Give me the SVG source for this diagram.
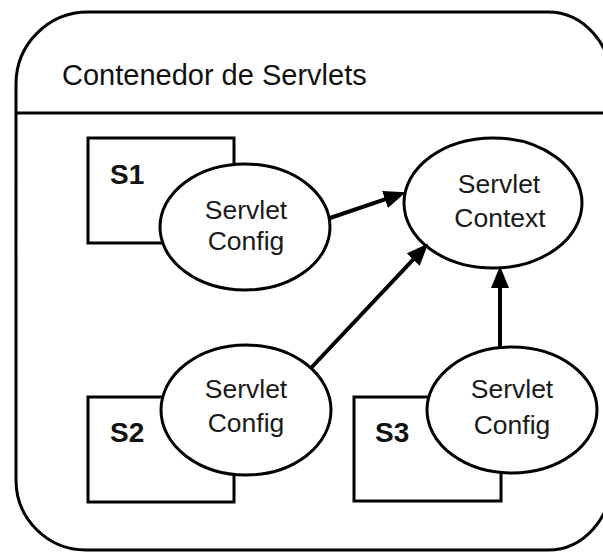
<svg xmlns="http://www.w3.org/2000/svg" width="603" height="552" viewBox="0 0 603 552">
  <defs>
    <style>
      .frame { fill: #ffffff; stroke: #000000; stroke-width: 3; }
      .box { fill: #ffffff; stroke: #000000; stroke-width: 3; }
      .oval { fill: #ffffff; stroke: #000000; stroke-width: 3; }
      .conn { fill: none; stroke: #000000; stroke-width: 4; marker-end: url(#arrow); }
      .lbl { font-family: "Liberation Sans", Arial, sans-serif; font-size: 26.5px; fill: #1a1a1a; text-anchor: middle; }
      .sid { font-family: "Liberation Sans", Arial, sans-serif; font-size: 28px; font-weight: bold; fill: #111111; }
      .title { font-family: "Liberation Sans", Arial, sans-serif; font-size: 29px; fill: #111111; }
    </style>
    <marker id="arrow" markerUnits="userSpaceOnUse" markerWidth="22" markerHeight="18" viewBox="0 0 22 18" refX="10" refY="9" orient="auto">
      <path d="M0,0 L22,9 L0,18 Z" fill="#000000"/>
    </marker>
  </defs>
  <rect width="603" height="552" fill="#ffffff"/>
  <g id="container">
    <path class="frame" d="M88 12 H548 A64 72 0 0 1 612 84 V478 A64 72 0 0 1 548 550 H86 A70 70 0 0 1 16 480 V84 A72 72 0 0 1 88 12 Z"/>
    <line x1="16" y1="113" x2="612" y2="113" stroke="#000000" stroke-width="3"/>
    <text class="title" x="62" y="85">Contenedor de Servlets</text>
  </g>
  <g id="servlet-context">
    <ellipse class="oval" cx="493" cy="203" rx="89" ry="65"/>
    <text class="lbl" x="499" y="193">Servlet</text>
    <text class="lbl" x="500" y="227">Context</text>
  </g>
  <g id="s1">
    <rect class="box" x="88" y="138" width="146" height="105"/>
    <text class="sid" x="110" y="184">S1</text>
    <ellipse class="oval" cx="245" cy="227" rx="85" ry="63"/>
    <text class="lbl" x="246" y="219">Servlet</text>
    <text class="lbl" x="246" y="250">Config</text>
  </g>
  <g id="s2">
    <rect class="box" x="88" y="397" width="146" height="105"/>
    <text class="sid" x="110" y="442">S2</text>
    <ellipse class="oval" cx="246" cy="410" rx="85" ry="65"/>
    <text class="lbl" x="246" y="398">Servlet</text>
    <text class="lbl" x="246" y="432">Config</text>
  </g>
  <g id="s3">
    <rect class="box" x="354" y="397" width="147" height="104"/>
    <text class="sid" x="375" y="442">S3</text>
    <ellipse class="oval" cx="512" cy="410" rx="85" ry="63"/>
    <text class="lbl" x="512" y="398">Servlet</text>
    <text class="lbl" x="512" y="434">Config</text>
  </g>
  <g id="connectors">
    <line class="conn" x1="330" y1="218" x2="394.5" y2="196.2"/>
    <line class="conn" x1="311" y1="368" x2="420" y2="252.3"/>
    <line class="conn" x1="500" y1="347" x2="500" y2="278"/>
  </g>
</svg>
